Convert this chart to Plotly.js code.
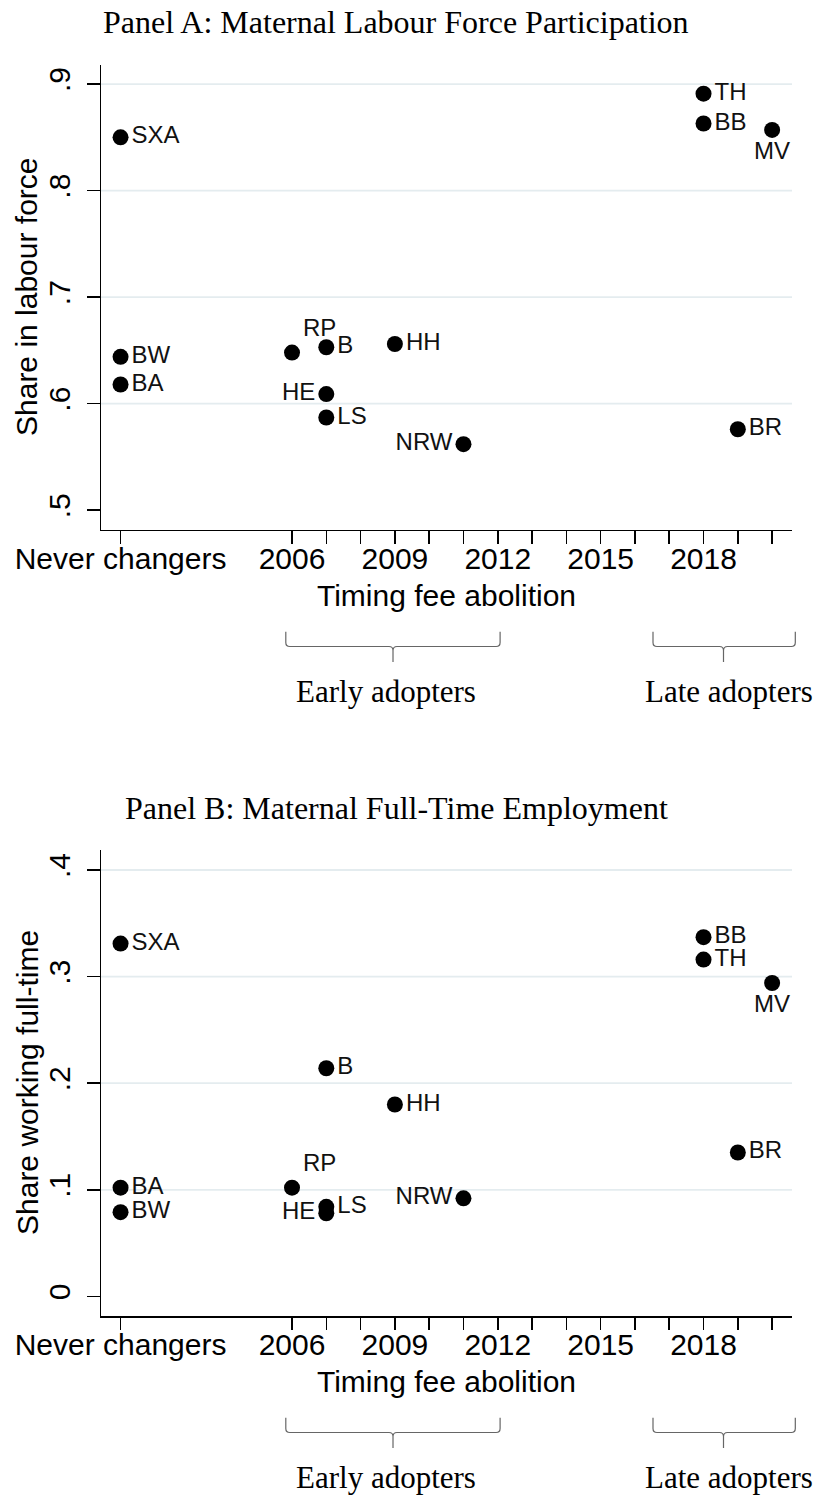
<!DOCTYPE html>
<html>
<head>
<meta charset="utf-8">
<script src="https://cdn.plot.ly/plotly-3.0.1.min.js"></script>
<style>html,body{margin:0;padding:0;background:#fff;}#chart{width:821px;height:1497px;}</style>
</head>
<body>
<div id="chart"></div>
<script>
// ---------------- data ----------------
const states = ['SXA','BW','BA','RP','B','HE','LS','HH','NRW','TH','BB','MV','BR'];
// year of fee abolition (2001 = "Never changers" slot)
const abolitionYear = [2001,2001,2001,2006,2007,2007,2007,2009,2011,2018,2018,2020,2019];
const shareLabourForce = [0.850,0.644,0.618,0.648,0.653,0.609,0.587,0.656,0.562,0.891,0.863,0.857,0.576];
const shareFullTime    = [0.331,0.079,0.102,0.102,0.214,0.078,0.084,0.180,0.092,0.316,0.337,0.294,0.135];

const xTickVals = [2001,2006,2007,2008,2009,2010,2011,2012,2013,2014,2015,2016,2017,2018,2019,2020];
const xTickText = ['Never changers','2006','','','2009','','','2012','','','2015','','','2018','',''];
const yTicksA = [0.5,0.6,0.7,0.8,0.9];
const yTickTextA = ['.5','.6','.7','.8','.9'];
const yTicksB = [0,0.1,0.2,0.3,0.4];
const yTickTextB = ['0','.1','.2','.3','.4'];
const gridA = [0.6,0.7,0.8,0.9];
const gridB = [0.1,0.2,0.3,0.4];

// ---------------- styling ----------------
const W = 821, H = 1497, ML = 101, MR = 29;
const PW = W - ML - MR;
const px = x => (x - ML) / PW;        // pixel -> paper x
const py = y => 1 - y / H;             // pixel -> paper y
const SANS = 'Liberation Sans, Arial, Helvetica, sans-serif';
const SERIF = 'Liberation Serif, Times New Roman, Times, serif';
const specialPos = {RP:'top right', HE:'middle left', NRW:'middle left', MV:'bottom center'};
const textPos = states.map(s => specialPos[s] || 'middle right');

function scatter(yvals, xa, ya){
  return {
    type:'scatter', mode:'markers+text',
    x: abolitionYear, y: yvals, text: states, textposition: textPos,
    xaxis: xa, yaxis: ya,
    marker:{color:'#000', size:16, line:{width:0}},
    textfont:{family:SANS, size:24, color:'#111'},
    cliponaxis:false, hoverinfo:'text+y', showlegend:false
  };
}

function xaxisCfg(anchor){
  return {
    anchor: anchor, domain:[0,1], range:[2000.43, 2020.58],
    tickmode:'array', tickvals:xTickVals, ticktext:xTickText,
    ticks:'outside', ticklen:12.5, tickwidth:1.5, tickcolor:'#000',
    ticklabelstandoff:-11,
    showline:true, linecolor:'#000', linewidth:1.5,
    showgrid:false, zeroline:false, automargin:false,
    tickfont:{family:SANS, size:30, color:'#000'},
    title:{text:'Timing fee abolition', font:{family:SANS, size:30, color:'#000'}, standoff:11}
  };
}
function yaxisCfg(anchor, domain, range, vals, txt){
  return {
    anchor: anchor, domain: domain, range: range,
    tickmode:'array', tickvals: vals, ticktext: txt, tickangle:-90,
    ticks:'outside', ticklen:12.5, tickwidth:1.5, tickcolor:'#000',
    ticklabelstandoff:5,
    showline:true, linecolor:'#000', linewidth:1.5,
    showgrid:false, zeroline:false, automargin:false,
    tickfont:{family:SANS, size:30, color:'#000'}
  };
}

const shapes = [];
gridA.forEach(v => shapes.push({type:'line', xref:'x domain', yref:'y', x0:0, x1:1, y0:v, y1:v, layer:'below', line:{color:'#e4ecef', width:1.8}}));
gridB.forEach(v => shapes.push({type:'line', xref:'x2 domain', yref:'y2', x0:0, x1:1, y0:v, y1:v, layer:'below', line:{color:'#e4ecef', width:1.8}}));

function brace(x0, x1, xm, yTop, yLine, yBot){
  const r = 4;
  const P = (x,y) => px(x).toFixed(5) + ',' + py(y).toFixed(5);
  const d = 'M' + P(x0,yTop) + ' L' + P(x0,yLine-r) + ' Q' + P(x0,yLine) + ' ' + P(x0+r,yLine) +
            ' L' + P(xm-r,yLine) + ' Q' + P(xm,yLine) + ' ' + P(xm,yLine+r) + ' L' + P(xm,yBot) +
            ' M' + P(xm,yLine+r) + ' Q' + P(xm,yLine) + ' ' + P(xm+r,yLine) +
            ' L' + P(x1-r,yLine) + ' Q' + P(x1,yLine) + ' ' + P(x1,yLine-r) + ' L' + P(x1,yTop);
  return {type:'path', xref:'paper', yref:'paper', path:d, line:{color:'#666', width:1.2}};
}
const panelShift = 786;
[0, panelShift].forEach(o => {
  shapes.push(brace(285.8, 500.1, 393, 631.7+o, 646.5+o, 662+o));
  shapes.push(brace(653, 795.3, 723.5, 631.7+o, 646.5+o, 662+o));
});

const annotations = [];
function ann(text, x, y, size, family, angle){
  return {text:text, xref:'paper', yref:'paper', x:px(x), y:py(y), xanchor:'center', yanchor:'middle',
          showarrow:false, textangle: angle || 0, font:{family:family, size:size, color:'#000'}};
}
annotations.push(ann('Panel A: Maternal Labour Force Participation', 396, 22, 32, SERIF));
annotations.push(ann('Panel B: Maternal Full-Time Employment', 396, 22+panelShift, 32, SERIF));
annotations.push(ann('Share in labour force', 27, 297, 30, SANS, -90));
annotations.push(ann('Share working full-time', 27, 297+panelShift, 30, SANS, -90));
[0, panelShift].forEach(o => {
  annotations.push(ann('Early adopters', 386, 691+o, 31, SERIF));
  annotations.push(ann('Late adopters', 729, 691+o, 31, SERIF));
});

const layout = {
  width:W, height:H, margin:{l:ML, r:MR, t:0, b:0, pad:0},
  paper_bgcolor:'#fff', plot_bgcolor:'#fff', showlegend:false,
  xaxis: xaxisCfg('y'),
  yaxis: yaxisCfg('x', [py(529.8), py(64.5)], [0.4816, 0.9184], yTicksA, yTickTextA),
  xaxis2: xaxisCfg('y2'),
  yaxis2: yaxisCfg('x2', [py(1316), py(850.4)], [-0.0184, 0.4184], yTicksB, yTickTextB),
  shapes: shapes, annotations: annotations
};

Plotly.newPlot('chart', [scatter(shareLabourForce,'x','y'), scatter(shareFullTime,'x2','y2')], layout, {staticPlot:true, displayModeBar:false});
</script>
</body>
</html>
